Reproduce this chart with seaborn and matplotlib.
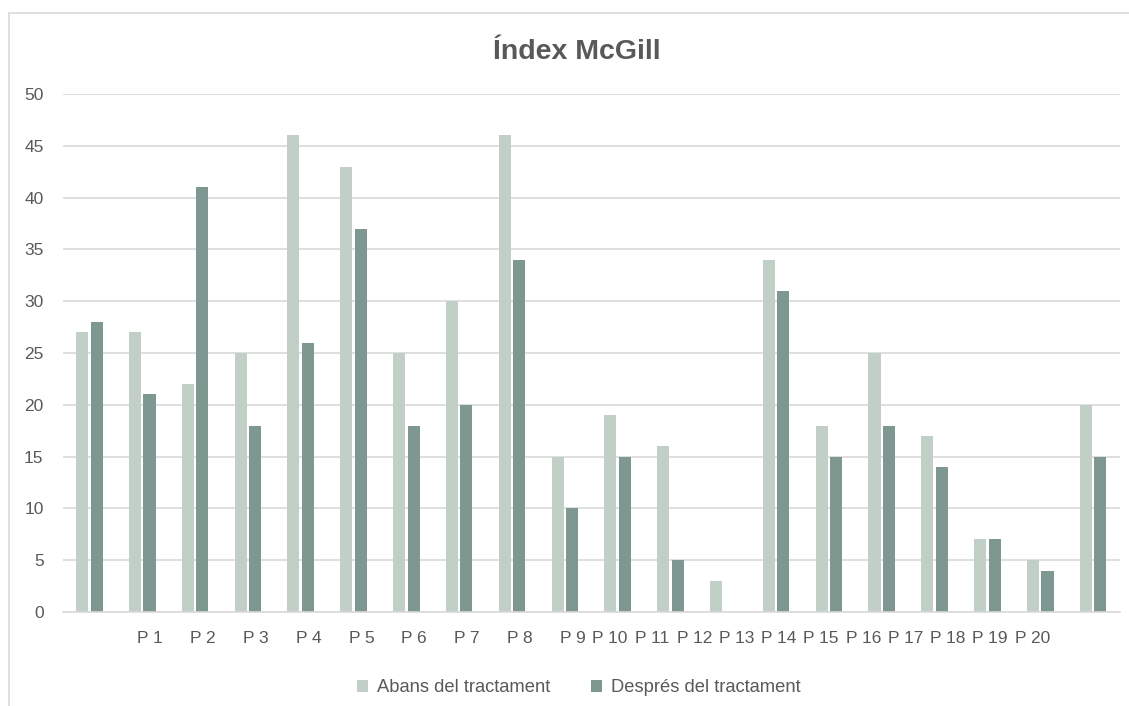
import matplotlib
matplotlib.use("Agg")
import matplotlib.pyplot as plt
from matplotlib.lines import Line2D
import numpy as np
import pandas as pd
import seaborn as sns

# Data: McGill pain index per patient, before and after treatment
pacients = [f"P {i}" for i in range(1, 21)]
abans = [27, 27, 22, 25, 46, 43, 25, 30, 46, 15, 19, 16, 3, 34, 18, 25, 17, 7, 5, 20]
despres = [28, 21, 41, 18, 26, 37, 18, 20, 34, 10, 15, 5, np.nan, 31, 15, 18, 14, 7, 4, 15]
series = ["Abans del tractament", "Després del tractament"]
y_ticks = list(range(0, 51, 5))

TEXT = "#595959"
GRID = "#d9d9d9"
colors = ["#c2cfc7", "#7e9791"]

sns.set_theme(style="white")
plt.rcParams["font.family"] = ["Liberation Sans", "DejaVu Sans"]

df = pd.DataFrame({
    "pacient": pacients * 2,
    "valor": abans + despres,
    "moment": [series[0]] * len(pacients) + [series[1]] * len(pacients),
})

W, H = 1129, 706
fig = plt.figure(figsize=(W / 100, H / 100), dpi=100)
fig.patch.set_facecolor("white")
ax = fig.add_axes([63 / W, 1 - 612 / H, (1119.5 - 63) / W, (612 - 94) / H])

sns.barplot(data=df, x="pacient", y="valor", hue="moment", order=pacients,
            hue_order=series, palette=colors, width=0.55, gap=0.17,
            linewidth=0, saturation=1, ax=ax)

ax.set_xlim(-0.5, len(pacients) - 0.5)
ax.set_ylim(0, 50)
ax.set_yticks(y_ticks)
ax.set_xlabel("")
ax.set_ylabel("")

# Category labels sit slightly right of the groups and tighten after P 9
label_pos = [k + 0.15 for k in range(1, 10)] + [9.85 + 0.8 * j for j in range(11)]
ax.set_xticks(label_pos, pacients)

ax.tick_params(axis="both", length=0, labelsize=12.5, colors=TEXT)
ax.tick_params(axis="y", pad=14)
ax.tick_params(axis="x", pad=14)

ax.yaxis.grid(True, color=GRID, linewidth=1.2)
ax.xaxis.grid(False)
ax.set_axisbelow(True)
for side in ["top", "right", "left"]:
    ax.spines[side].set_visible(False)
ax.spines["bottom"].set_color(GRID)
ax.spines["bottom"].set_linewidth(1.2)

handles, labels = ax.get_legend_handles_labels()
ax.get_legend().remove()
fig.legend(handles, labels, loc="center", bbox_to_anchor=(579 / W, 1 - 688 / H),
           ncol=2, frameon=False, fontsize=13.2, labelcolor=TEXT,
           handlelength=0.6, handleheight=0.6, handletextpad=0.5,
           columnspacing=2.2)

fig.text(577 / W, 1 - 52 / H, "Índex McGill", ha="center", va="center",
         fontsize=20.5, fontweight="bold", color=TEXT)

# Chart frame (left and top edges)
fig.add_artist(Line2D([9 / W, 9 / W], [0, 1 - 13 / H], transform=fig.transFigure,
                      color=GRID, linewidth=1.2))
fig.add_artist(Line2D([9 / W, 1], [1 - 13 / H, 1 - 13 / H], transform=fig.transFigure,
                      color=GRID, linewidth=1.2))

fig.savefig("out.png", dpi=100)
